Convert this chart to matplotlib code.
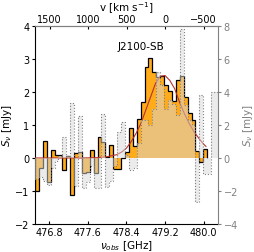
import matplotlib
matplotlib.use("Agg")
import matplotlib.pyplot as plt
import numpy as np

# spectral grid (GHz) - channel start and width
chan_start = 476.5
chan_width = 0.08125
nu0 = 479.2          # line rest frame -> v = 0
c_kms = 299792.458

# source spectrum (mJy, left axis)
flux_src = [-1.0, -0.3, 0.5, -0.72, 0.23, 0.08, 0.1, -0.37, 0.05, -1.13,
            0.15, 0.18, -0.47, -0.42, 0.23, -0.47, 0.63, 0.48, 0.03, 0.38,
            -0.33, -0.33, 0.0, 0.17, 0.9, 0.35, 1.18, 1.7, 2.75, 3.02,
            2.6, 2.45, 2.5, 2.2, 2.04, 1.72, 2.35, 2.5, 1.84, 1.35,
            1.15, 0.2, -0.13, 0.27]

# comparison spectrum (mJy, right axis)
flux_cmp = [-1.3, -1.15, -1.4, -1.65, -0.6, -0.2, 0.1, 1.25, 0.1, 3.33,
            -1.7, 2.57, -1.8, -1.45, -0.5, -1.8, -1.8, 2.67, -1.75, -1.4,
            -0.5, 1.55, 2.16, 0.2, -0.7, -0.6, 0.9, 2.3, 2.3, 2.0,
            3.0, 5.2, 4.4, 3.0, 3.5, 3.3, 2.6, 7.8, 3.2, 2.3,
            2.0, -2.7, 3.8, -0.95, -0.95, 4.0, 4.0]

# gaussian fit
fit_nu = [476.5, 477.0, 477.5, 477.8, 478.0, 478.2, 478.3, 478.4, 478.5, 478.6,
          478.7, 478.8, 478.9, 479.0, 479.1, 479.2, 479.3, 479.4, 479.5, 479.6,
          479.7, 479.8, 479.9, 480.0, 480.05]
fit_flux = [0.0, 0.0, 0.0, 0.01, 0.04, 0.1, 0.18, 0.3, 0.5, 0.75,
            1.05, 1.45, 1.85, 2.25, 2.48, 2.5, 2.35, 2.1, 1.7, 1.35,
            1.05, 0.8, 0.6, 0.42, 0.35]

edges_src = chan_start + chan_width * np.arange(len(flux_src) + 1)
edges_cmp = chan_start + chan_width * np.arange(len(flux_cmp) + 1)

fig = plt.figure(figsize=(2.55, 2.53), dpi=100)
ax = fig.add_axes([0.137, 0.111, 0.718, 0.782])

ax.stairs(flux_src, edges_src, baseline=0, fill=True, color='#ffab1a', zorder=1)
ax.stairs(flux_src, edges_src, baseline=0, color='k', lw=0.9, zorder=2)
ax.plot(fit_nu, fit_flux, color='#b8312f', lw=0.8, zorder=3)

ax.set_xlim(476.5, 480.3)
ax.set_ylim(-2, 4)
ax.set_xticks([476.8, 477.6, 478.4, 479.2, 480.0])
ax.set_xticklabels(['476.8', '477.6', '478.4', '479.2', '480.0'])
ax.set_yticks([-2, -1, 0, 1, 2, 3, 4])
ax.tick_params(axis='x', direction='in', labelsize=7, length=2.5, pad=2)
ax.tick_params(axis='y', direction='out', labelsize=7, length=2.5, pad=1.5)
ax.set_xlabel(r'$\nu_{obs}$ [GHz]', fontsize=7.5, labelpad=1)
ax.set_ylabel(r'$S_\nu$ [mJy]', fontsize=7.5, labelpad=1)
ax.spines['top'].set_visible(False)
ax.spines['right'].set_visible(False)

ax2 = ax.twinx()
ax2.stairs(flux_cmp, edges_cmp, baseline=0, fill=True, facecolor='#d8d8d8',
           alpha=0.5, zorder=1)
ax2.stairs(flux_cmp, edges_cmp, baseline=0, color='grey', ls=':', lw=0.8, zorder=2)
ax2.set_ylim(-4, 8)
ax2.set_yticks([-4, -2, 0, 2, 4, 6, 8])
ax2.tick_params(axis='y', direction='out', labelsize=7, length=2.5, pad=1.5,
                colors='grey')
ax2.set_ylabel(r'$S_\nu$ [mJy]', fontsize=7.5, color='grey', labelpad=2)
for s in ['top', 'right']:
    ax2.spines[s].set_color('grey')
ax2.spines['left'].set_visible(False)
ax2.spines['bottom'].set_visible(False)

secax = ax.secondary_xaxis('top', functions=(lambda nu: c_kms * (nu0 - nu) / nu0,
                                             lambda v: nu0 * (1 - v / c_kms)))
secax.set_xticks([1500, 1000, 500, 0, -500])
secax.tick_params(direction='in', labelsize=7, length=2.5, pad=1.5, colors='k')
secax.spines['top'].set_color('grey')
secax.set_xlabel(r'v [km s$^{-1}$]', fontsize=7.5, labelpad=2)

ax.text(0.58, 0.9, 'J2100-SB', transform=ax.transAxes, ha='center', va='center',
        fontsize=7.5)

fig.savefig('out.png', dpi=100)
